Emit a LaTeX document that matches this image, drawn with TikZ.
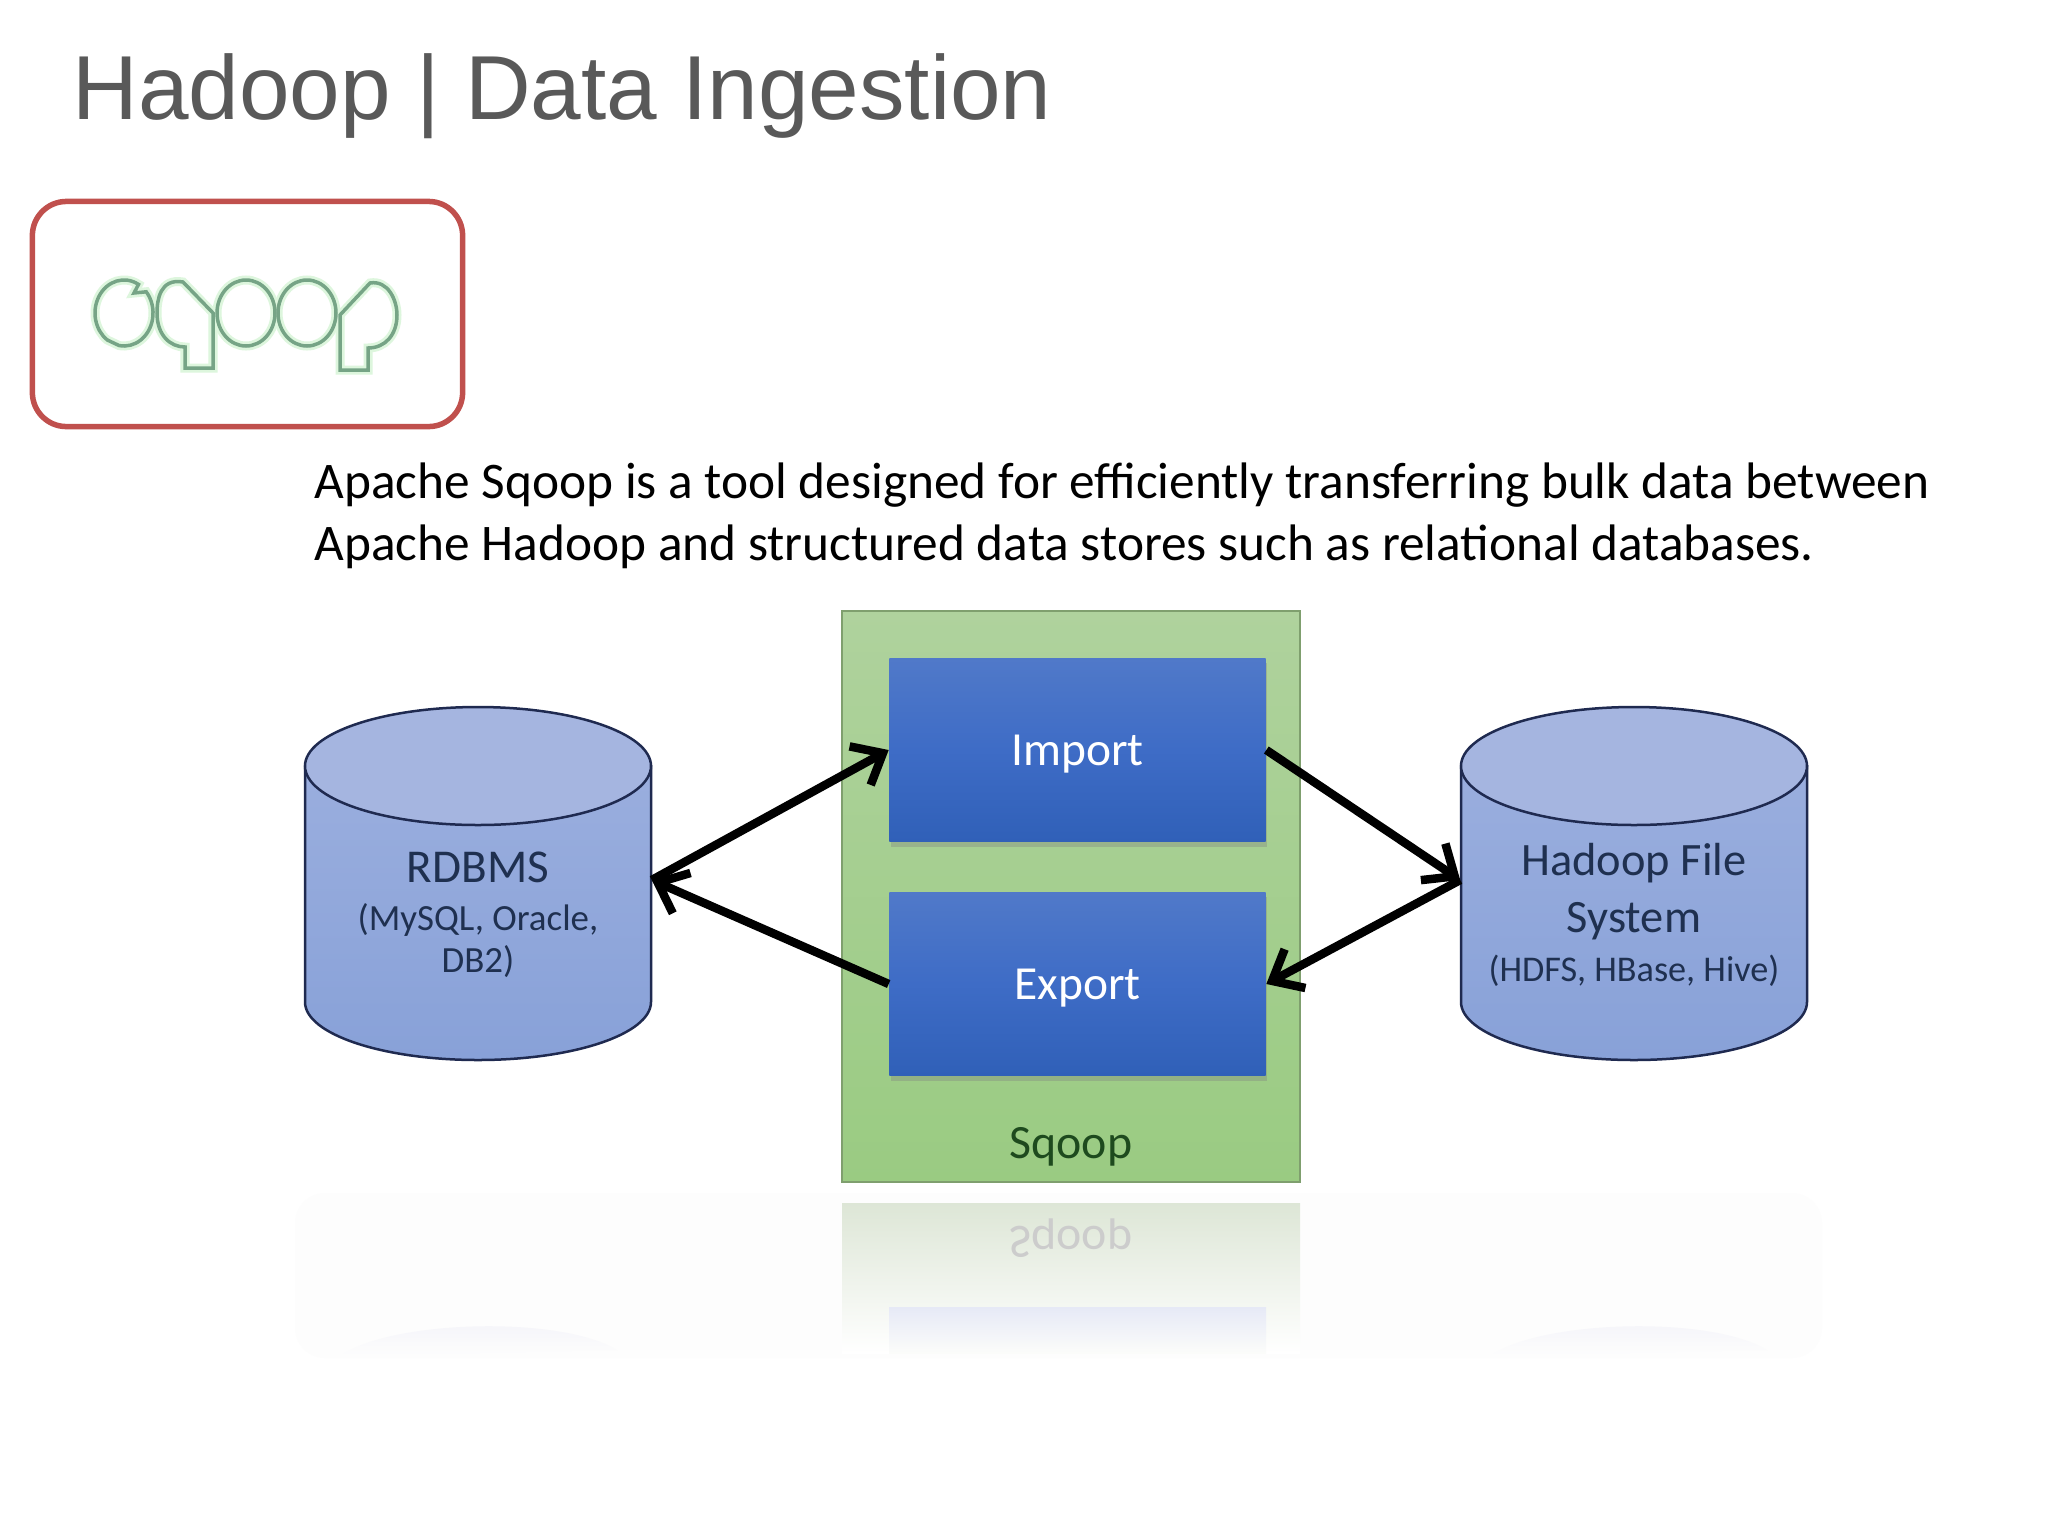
\documentclass[tikz,border=0pt]{standalone}
\usepackage{fontspec}
\setmainfont{Carlito}
\newfontfamily\titlefont{Liberation Sans}
\usetikzlibrary{arrows.meta,shadows}
\definecolor{titlegray}{HTML}{595959}
\definecolor{logored}{HTML}{C0504D}
\definecolor{logoline}{HTML}{76A486}
\definecolor{logoglow}{HTML}{DDF6DD}
\definecolor{sqooptop}{HTML}{AFD29D}
\definecolor{sqoopbottom}{HTML}{9ACB82}
\definecolor{sqoopedge}{HTML}{7F9F6E}
\definecolor{sqooptext}{HTML}{1E4A1E}
\definecolor{boxtop}{HTML}{5079C9}
\definecolor{boxmid}{HTML}{3E6CC6}
\definecolor{boxbottom}{HTML}{3060B8}
\definecolor{cyltop}{HTML}{A5B5E0}
\definecolor{cylmid}{HTML}{9AAEDE}
\definecolor{cylbottom}{HTML}{88A1D8}
\definecolor{cyledge}{HTML}{1F2A50}
\definecolor{cyltext}{HTML}{1F3050}
\definecolor{ghostpage}{HTML}{FDFDFD}
\definecolor{ghostarc}{HTML}{F3F3F9}
\definecolor{ghostgreen}{HTML}{DDE6D6}
\definecolor{ghostgreenlow}{HTML}{F3F6EF}
\definecolor{ghostblue}{HTML}{E6E9F6}
\begin{document}
\begin{tikzpicture}[x=0.01cm,y=-0.01cm]
	\tikzstyle{datastore}=[rectangle,minimum width=34.6mm,minimum height=34.8mm,text=cyltext,align=center,inner sep=0pt]
	\tikzstyle{action}=[rectangle,minimum width=37.6mm,minimum height=18.3mm,top color=boxtop,bottom color=boxbottom,middle color=boxmid,text=white,text height=13pt,text depth=4.4pt,font=\fontsize{13.5}{15}\selectfont,drop shadow={shadow xshift=0.15mm,shadow yshift=-0.5mm,opacity=0.35}]
	\tikzstyle{flow}=[-{Straight Barb[length=2.6mm,width=4.4mm,line width=0.85mm]},line width=0.85mm,black]
	\tikzstyle{logostroke}=[line width=0.35mm,logoline]
	\tikzstyle{logohalo}=[line width=0.9mm,logoglow]
	\useasboundingbox (0,0) rectangle (2048,1536);
	\fill[white] (0,0) rectangle (2048,1536);
	\node[anchor=base west,inner sep=0pt,text=titlegray,font=\titlefont\fontsize{25.85}{30}\selectfont] (title) at (72,119) {Hadoop | Data Ingestion};
	\node[draw=logored,line width=0.55mm,rounded corners=3.4mm,minimum width=43mm,minimum height=22.5mm] (logobox) at (247.5,314) {};
	\foreach \pass in {logohalo,logostroke}{
		\draw[\pass] (138.5,284.4) arc (-60:-235:29 and 33) -- (119,345.5) arc (100:-40:29 and 33) -- (134,293) -- cycle;
		\draw[\pass] (213,313) -- (183,282) .. controls (160,278) and (157,300) .. (157,313) .. controls (157,335) and (170,347) .. (185,347) -- (185,368) -- (213,368) -- cycle;
		\draw[\pass] (246,313) ellipse (29 and 33);
		\draw[\pass] (307,313) ellipse (29 and 33);
		\draw[\pass] (340,315) -- (370,283) .. controls (388,280) and (397,300) .. (397,315) .. controls (397,335) and (385,348) .. (368,348) -- (368,370) -- (340,370) -- cycle;
	}
	\node[anchor=base west,inner sep=0pt,align=left,font=\fontsize{14.6}{17.4}\selectfont] (about) at (314,560) {Apache Sqoop is a tool designed for efficiently transferring bulk data between\\Apache Hadoop and structured data stores such as relational databases.};
	\node[rectangle,draw=sqoopedge,line width=0.25mm,top color=sqooptop,bottom color=sqoopbottom,minimum width=45.8mm,minimum height=57.1mm] (sqoop) at (1071,896.5) {};
	\node[action] (import) at (1077.5,750) {Import};
	\node[action] (export) at (1077.5,984) {Export};
	\node[anchor=base,text=sqooptext,font=\fontsize{13.6}{15}\selectfont] (sqooplabel) at (1071,1158) {Sqoop};
	\foreach \cx in {478,1634}{
		\shade[top color=cylmid,bottom color=cylbottom,draw=cyledge,line width=0.25mm] (\cx-173,766) -- (\cx-173,1002) arc (180:0:173 and 58) -- (\cx+173,766) -- cycle;
		\draw[fill=cyltop,draw=cyledge,line width=0.25mm] (\cx,766) ellipse (173 and 59);
	}
	\node[datastore] (rdbms) at (478,880) {};
	\node[datastore] (hadoop) at (1634,880) {};
	\node[align=center,text=cyltext,inner sep=0pt] (rdbmstext) at (478,915) {\fontsize{13.4}{10.9}\selectfont RDBMS\\[1.5pt]\fontsize{10.5}{10.9}\selectfont (MySQL, Oracle,\\\fontsize{10.5}{10.9}\selectfont DB2)};
	\node[align=center,text=cyltext,inner sep=0pt] (hadooptext) at (1634,915) {\fontsize{13.2}{12}\selectfont Hadoop File\\[4pt]\fontsize{13.2}{12}\selectfont System\\[2pt]\fontsize{10.3}{12}\selectfont (HDFS, HBase, Hive)};
	\draw[flow] (rdbms.east) -- (import.west);
	\draw[flow] (export.west) -- (rdbms.east);
	\draw[flow] (import.east) -- (hadoop.west);
	\draw[flow] (hadoop.west) -- (export.east);
	\fill[ghostpage,rounded corners=3mm] (295,1193) rectangle (1822,1358);
	\shade[top color=ghostarc,bottom color=ghostpage] (340,1356) .. controls (390,1320) and (560,1315) .. (617,1350) -- cycle;
	\shade[top color=ghostarc,bottom color=ghostpage] (1490,1356) .. controls (1540,1320) and (1710,1315) .. (1767,1350) -- cycle;
	\shade[top color=ghostgreen,middle color=ghostgreenlow,bottom color=white] (842,1203) rectangle (1300,1353);
	\shade[top color=ghostblue,bottom color=ghostgreenlow!30!white] (889,1307) rectangle (1266,1353);
	\node[anchor=base,yscale=-1,text=black!20,font=\fontsize{13.6}{15}\selectfont] (mirror) at (1071,1226) {Sqoop};
\end{tikzpicture}
\end{document}
